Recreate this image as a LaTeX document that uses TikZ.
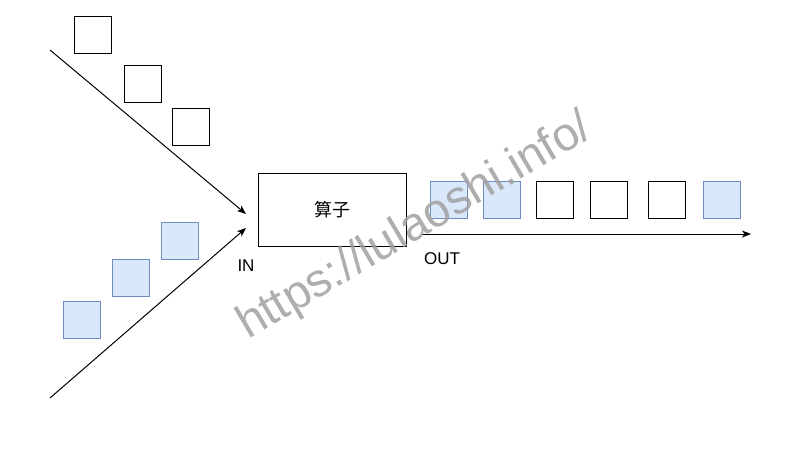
\documentclass[tikz,border=0pt]{standalone}
\usepackage{fontspec}
\setmainfont{Liberation Sans}
\newfontfamily\cjk{Noto Sans CJK SC}
\usetikzlibrary{arrows.meta}
\definecolor{bluefill}{HTML}{DAE8FC}
\definecolor{bluedraw}{HTML}{6C8EBF}
\definecolor{wmgray}{RGB}{160,160,160}
\tikzset{
  wsq/.style={draw=black, fill=white, line width=1pt, minimum size=37pt, inner sep=0pt},
  bsq/.style={draw=bluedraw, fill=bluefill, line width=1pt, minimum size=37pt, inner sep=0pt},
  flow/.style={line width=1pt, -{Stealth[length=9pt, width=7pt, inset=2.5pt]}},
  lbl/.style={font=\fontsize{17}{20}\selectfont, inner sep=0pt}
}
\begin{document}
\begin{tikzpicture}[x=1pt, y=-1pt]
\useasboundingbox[fill=white] (0,0) rectangle (801,456);
% input squares
\node[wsq] (w1) at (92.5,35) {};
\node[wsq] (w2) at (143,84) {};
\node[wsq] (w3) at (191,127) {};
\node[bsq] (b1) at (81.5,320) {};
\node[bsq] (b2) at (131,278) {};
\node[bsq] (b3) at (180,241) {};
% operator
\node[draw, line width=1pt, minimum width=148pt, minimum height=73pt, inner sep=0pt] (op) at (332,209.5) {\fontsize{18}{20}\selectfont\cjk 算子};
\node[lbl] (in) at (246,266) {IN};
\node[lbl] (out) at (442,258.5) {OUT};
% connectors
\coordinate (s1) at (50,50);
\coordinate (e1) at (246,214);
\coordinate (s2) at (50,398);
\coordinate (e2) at (246,228);
\coordinate (s3) at (422,234);
\coordinate (e3) at (751,234);
\draw[flow] (s1) -- (e1);
\draw[flow] (s2) -- (e2);
\draw[flow] (s3) -- (e3);
% output squares
\node[bsq] (o1) at (449,199.5) {};
\node[bsq] (o2) at (502,199.5) {};
\node[wsq] (o3) at (555,199.5) {};
\node[wsq] (o4) at (609,199.5) {};
\node[wsq] (o5) at (666.5,199.5) {};
\node[bsq] (o6) at (722,199.5) {};
% watermark
\node[text=wmgray, text opacity=0.85, rotate=30.5, anchor=base west, inner sep=0pt, font=\fontsize{47}{52}\selectfont] (wm) at (248,340) {https://lulaoshi.info/};
\end{tikzpicture}
\end{document}
